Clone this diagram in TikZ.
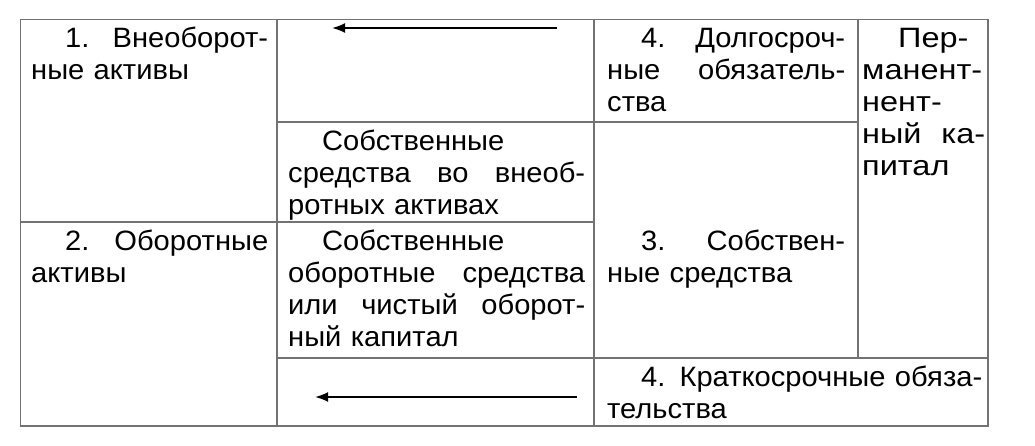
\documentclass[tikz,border=0pt]{standalone}
\usepackage{fontspec}
\setmainfont{Liberation Sans}[FakeStretch=1.04]
\newfontfamily\widefont{Liberation Sans}[FakeStretch=1.16]
\usetikzlibrary{arrows.meta}
\newcommand\jline[1]{\makebox[\linewidth][s]{#1}}
\newcommand\ind{\hspace*{34pt}}
\begin{document}
\begin{tikzpicture}[x=1pt,y=-1pt,
  grid/.style={draw=black!55, line width=1.3pt},
  cell/.style={anchor=base west, inner sep=0pt, align=left, font=\fontsize{28}{32}\selectfont},
  flow/.style={draw=black, line width=2pt, -{Latex[length=13pt,width=10pt]}}]
\useasboundingbox (0,0) rectangle (1035,446);
% table grid
\draw[grid] (20.5,19.5) rectangle (988,426);
\draw[grid] (277,19.5) -- (277,426);
\draw[grid] (594,19.5) -- (594,426);
\draw[grid] (858,19.5) -- (858,358);
\draw[grid] (20.5,222) -- (594,222);
\draw[grid] (277,122) -- (858,122);
\draw[grid] (277,358) -- (988,358);
% cells
\node[cell, text width=237pt] (c1a) at (31,48) {\jline{\ind 1. \hfill Внеоборот-}\\ные активы};
\node[cell, text width=237pt] (c1b) at (31,250.5) {\jline{\ind 2. \hfill Оборотные}\\активы};
\node[cell, text width=297pt] (c2b) at (288,150.5) {\ind Собственные\\\jline{средства \hfill во \hfill внеоб-}\\ротных активах};
\node[cell, text width=297pt] (c2c) at (288,250.5) {\ind Собственные\\\jline{оборотные \hfill средства}\\\jline{или \hfill чистый \hfill оборот-}\\ный капитал};
\node[cell, text width=238pt] (c3a) at (607,48) {\jline{\ind 4. \hfill Долгосроч-}\\\jline{ные \hfill обязатель-}\\ства};
\node[cell, text width=238pt] (c3b) at (607,250.5) {\jline{\ind 3. \hfill Собствен-}\\ные средства};
\node[cell, text width=123pt, font=\fontsize{28}{32}\widefont] (c4) at (862,48) {\hspace*{36pt}Пер-\\манент-\\нент-\\\jline{ный \hfill ка-}\\питал};
\node[cell, text width=375pt] (c34) at (607,386.5) {\jline{\ind 4. \hfill Краткосрочные \hfill обяза-}\\тельства};
% arrows
\coordinate (a1s) at (557,28);
\coordinate (a1e) at (332,28);
\coordinate (a2s) at (577,397);
\coordinate (a2e) at (315,397);
\draw[flow] (a1s) -- (a1e);
\draw[flow] (a2s) -- (a2e);
\end{tikzpicture}
\end{document}
